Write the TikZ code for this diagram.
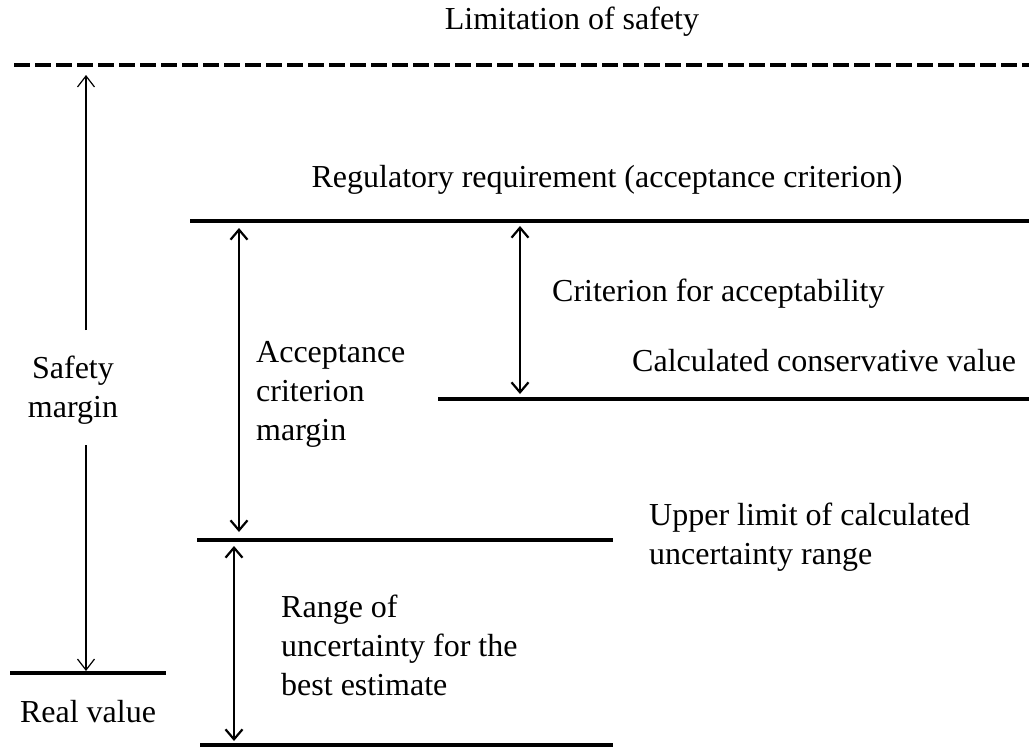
\documentclass[tikz,border=0pt]{standalone}
\usepackage{fontspec}
\setmainfont{Liberation Serif}
\usetikzlibrary{arrows.meta}
\begin{document}
\begin{tikzpicture}[x=1pt,y=-1pt,
  lbl/.style={font=\fontsize{32}{39}\selectfont, inner sep=0pt, align=left},
  level/.style={line width=4pt},
  dashlevel/.style={line width=4pt, dash pattern=on 16pt off 5pt},
  thinarr/.style={line width=1.2pt, -{Straight Barb[length=11pt,width=17pt,line width=1.2pt]}},
  thickarr/.style={line width=2.2pt, {Straight Barb[length=10pt,width=17pt,line width=2.2pt]}-{Straight Barb[length=10pt,width=17pt,line width=2.2pt]}}
]
\useasboundingbox (0,0) rectangle (1029,748);
% level lines
\draw[dashlevel] (14,65) coordinate (limL) -- (1029,65) coordinate (limR);
\draw[level] (190,221) coordinate (regL) -- (1029,221) coordinate (regR);
\draw[level] (438,399) coordinate (conL) -- (1029,399) coordinate (conR);
\draw[level] (197,540) coordinate (uppL) -- (613,540) coordinate (uppR);
\draw[level] (200,745) coordinate (botL) -- (613,745) coordinate (botR);
\draw[level] (10,673) coordinate (realL) -- (166,673) coordinate (realR);
% labels
\node[lbl, anchor=base] (lim) at (572,29) {Limitation of safety};
\node[lbl, anchor=base] (reg) at (607,187) {Regulatory requirement (acceptance criterion)};
\node[lbl, anchor=base west] (crit) at (552,301) {Criterion for acceptability};
\node[lbl, anchor=base west] (cons) at (632,371) {Calculated conservative value};
\node[lbl, anchor=north west] (acm) at (256,341) {Acceptance\\criterion\\margin};
\node[lbl, anchor=north west] (upl) at (649,503) {Upper limit of calculated\\uncertainty range};
\node[lbl, anchor=north west] (rng) at (281,595) {Range of\\uncertainty for the\\best estimate};
\node[lbl, anchor=north, align=center] (sm) at (73,356) {Safety\\margin};
\node[lbl, anchor=base] (real) at (88,722) {Real value};
% arrow anchor coordinates
\coordinate (smTop) at (86,75);
\coordinate (smA) at (86,330);
\coordinate (smB) at (86,445);
\coordinate (smBot) at (86,671);
\coordinate (acmTop) at (239,228);
\coordinate (acmBot) at (239,532);
\coordinate (critTop) at (520,226);
\coordinate (critBot) at (520,394);
\coordinate (rngTop) at (234,546);
\coordinate (rngBot) at (234,741);
% arrows
\draw[thinarr] (smA) -- (smTop);
\draw[thinarr] (smB) -- (smBot);
\draw[thickarr] (acmTop) -- (acmBot);
\draw[thickarr] (critTop) -- (critBot);
\draw[thickarr] (rngTop) -- (rngBot);
\end{tikzpicture}
\end{document}
